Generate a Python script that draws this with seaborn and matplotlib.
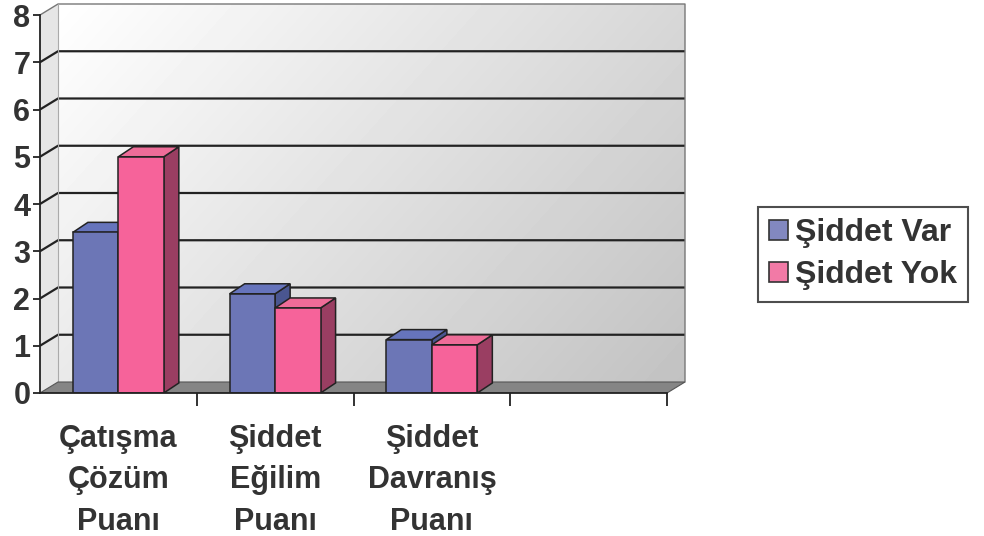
import numpy as np
import pandas as pd
import matplotlib
matplotlib.use("Agg")
import matplotlib.pyplot as plt
import seaborn as sns
from matplotlib.patches import Polygon, Patch, Rectangle

categories = ["Çatışma\nÇözüm\nPuanı", "Şiddet\nEğilim\nPuanı", "Şiddet\nDavranış\nPuanı", ""]
series_names = ["Şiddet Var", "Şiddet Yok"]
var_values = [3.4, 2.1, 1.13]
yok_values = [5.0, 1.8, 1.02]
y_ticks = [0, 1, 2, 3, 4, 5, 6, 7, 8]

front_colors = {"Şiddet Var": "#6c76b6", "Şiddet Yok": "#f6639a"}
top_colors = {"Şiddet Var": "#6674bc", "Şiddet Yok": "#ee6c98"}
side_colors = {"Şiddet Var": "#4a5690", "Şiddet Yok": "#9a3e62"}
legend_colors = {"Şiddet Var": "#8288c0", "Şiddet Yok": "#f27aa6"}

sns.set_theme(style="white")
plt.rcParams["font.family"] = ["Liberation Sans", "DejaVu Sans"]
plt.rcParams["font.weight"] = "bold"
TXT = "#333333"

df = pd.DataFrame({
    "cat": categories[:3] * 2,
    "series": [series_names[0]] * 3 + [series_names[1]] * 3,
    "value": var_values + yok_values,
})

fig = plt.figure(figsize=(9.84, 5.36), dpi=100)
W, H = 984, 536
px_x = 156.75   # px per category unit
px_y = 47.25    # px per value unit
x0_px, y0_px = 40, 393
xlim = (-0.5, 3.68)
ylim = (0, 8.3)
ax = fig.add_axes([x0_px / W, (H - y0_px) / H,
                   (xlim[1] - xlim[0]) * px_x / W, (ylim[1] - ylim[0]) * px_y / H])
ax.set_facecolor("none")

sns.barplot(data=df, x="cat", y="value", hue="series", order=categories,
            hue_order=series_names, palette=front_colors, width=0.58, saturation=1,
            edgecolor="#222222", linewidth=1.1, legend=False, ax=ax)

bars = sorted([p for p in ax.patches if isinstance(p, Rectangle) and p.get_height() > 0],
              key=lambda p: p.get_x())

ax.set_xlim(*xlim)
ax.set_ylim(*ylim)

# depth offsets
dxw, dyw = 18 / px_x, 11 / px_y     # wall depth
dxb, dyb = 15 / px_x, 10 / px_y     # bar depth

# back wall gradient
nx, ny = 200, 100
gx = np.linspace(0, 1, nx)[None, :]
gy = np.linspace(0, 1, ny)[:, None]
grad = 1.0 - 0.24 * (0.65 * gx + 0.35 * (1 - gy))
ax.imshow(grad, cmap="gray", vmin=0, vmax=1, origin="lower", aspect="auto",
          extent=(-0.5 + dxw, 3.5 + dxw, dyw, 8 + dyw), zorder=0.2,
          interpolation="bilinear")
ax.set_xlim(*xlim)
ax.set_ylim(*ylim)

# left side wall
ax.add_patch(Polygon([(-0.5, 0), (-0.5 + dxw, dyw), (-0.5 + dxw, 8 + dyw), (-0.5, 8)],
                     closed=True, facecolor="#e6e6e6", edgecolor="none", zorder=0.3))
# floor
ax.add_patch(Polygon([(-0.5, 0), (3.5, 0), (3.5 + dxw, dyw), (-0.5 + dxw, dyw)],
                     closed=True, facecolor="#858585", edgecolor="#555555", lw=0.8, zorder=1.5))

# gridlines on walls
for yv in y_ticks[1:-1]:
    ax.plot([-0.5, -0.5 + dxw, 3.5 + dxw], [yv, yv + dyw, yv + dyw],
            color="#222222", lw=1.6, zorder=1, solid_capstyle="butt")
# wall outline
ax.plot([-0.5, -0.5 + dxw, 3.5 + dxw, 3.5 + dxw], [8, 8 + dyw, 8 + dyw, dyw],
        color="#777777", lw=1.0, zorder=1)
ax.plot([-0.5 + dxw, -0.5 + dxw], [dyw, 8 + dyw], color="#aaaaaa", lw=0.8, zorder=1)

# 3D bar faces
for i, p in enumerate(bars):
    xl, w, h = p.get_x(), p.get_width(), p.get_height()
    xr = xl + w
    fc = matplotlib.colors.to_rgb(p.get_facecolor())
    name = min(front_colors, key=lambda k: sum(abs(a - b) for a, b in zip(
        matplotlib.colors.to_rgb(front_colors[k]), fc)))
    z = 3 + 0.1 * i
    ax.add_patch(Polygon([(xr, 0), (xr + dxb, dyb), (xr + dxb, h + dyb), (xr, h)], closed=True,
                         facecolor=side_colors[name], edgecolor="#222222", lw=1.1, zorder=z))
    ax.add_patch(Polygon([(xl, h), (xr, h), (xr + dxb, h + dyb), (xl + dxb, h + dyb)], closed=True,
                         facecolor=top_colors[name], edgecolor="#222222", lw=1.1, zorder=z))
    p.set_zorder(z + 0.05)

# axes, ticks
sns.despine(ax=ax, top=True, right=True)
ax.spines["left"].set_bounds(0, 8)
ax.spines["bottom"].set_bounds(-0.5, 3.5)
for s in ("left", "bottom"):
    ax.spines[s].set_color("#222222")
    ax.spines[s].set_linewidth(1.3)
    ax.spines[s].set_zorder(5)
ax.set_yticks(y_ticks)
ax.set_yticklabels([str(t) for t in y_ticks], fontsize=22, fontweight="bold", color=TXT)
ax.tick_params(axis="y", direction="out", length=5, width=1.3, color="#222222", pad=2, left=True)

ax.set_xticks([0.5, 1.5, 2.5, 3.5])
ax.set_xticklabels([])
ax.tick_params(axis="x", which="major", direction="out", length=9, width=1.3,
               color="#222222", bottom=True)
ax.set_xticks([0, 1, 2], minor=True)
ax.set_xticklabels(categories[:3], minor=True, fontsize=22, fontweight="bold",
                   color=TXT, linespacing=1.5)
ax.tick_params(axis="x", which="minor", length=0, pad=22)
ax.set_xlabel("")
ax.set_ylabel("")

handles = [Patch(facecolor=legend_colors[n], edgecolor="#333333", lw=1.2, label=n)
           for n in series_names]
leg = fig.legend(handles=handles, loc="upper left", bbox_to_anchor=(758 / W, 1 - 207 / H),
                 frameon=True, fancybox=False, shadow=False, borderaxespad=0,
                 prop={"family": ["Liberation Sans", "DejaVu Sans"], "weight": "bold", "size": 23},
                 handlelength=0.6, handleheight=0.6, handletextpad=0.2,
                 labelspacing=0.38, borderpad=0.35, labelcolor=TXT)
leg.get_frame().set_edgecolor("#222222")
leg.get_frame().set_linewidth(1.5)

fig.savefig("out.png", dpi=100, facecolor="white")
